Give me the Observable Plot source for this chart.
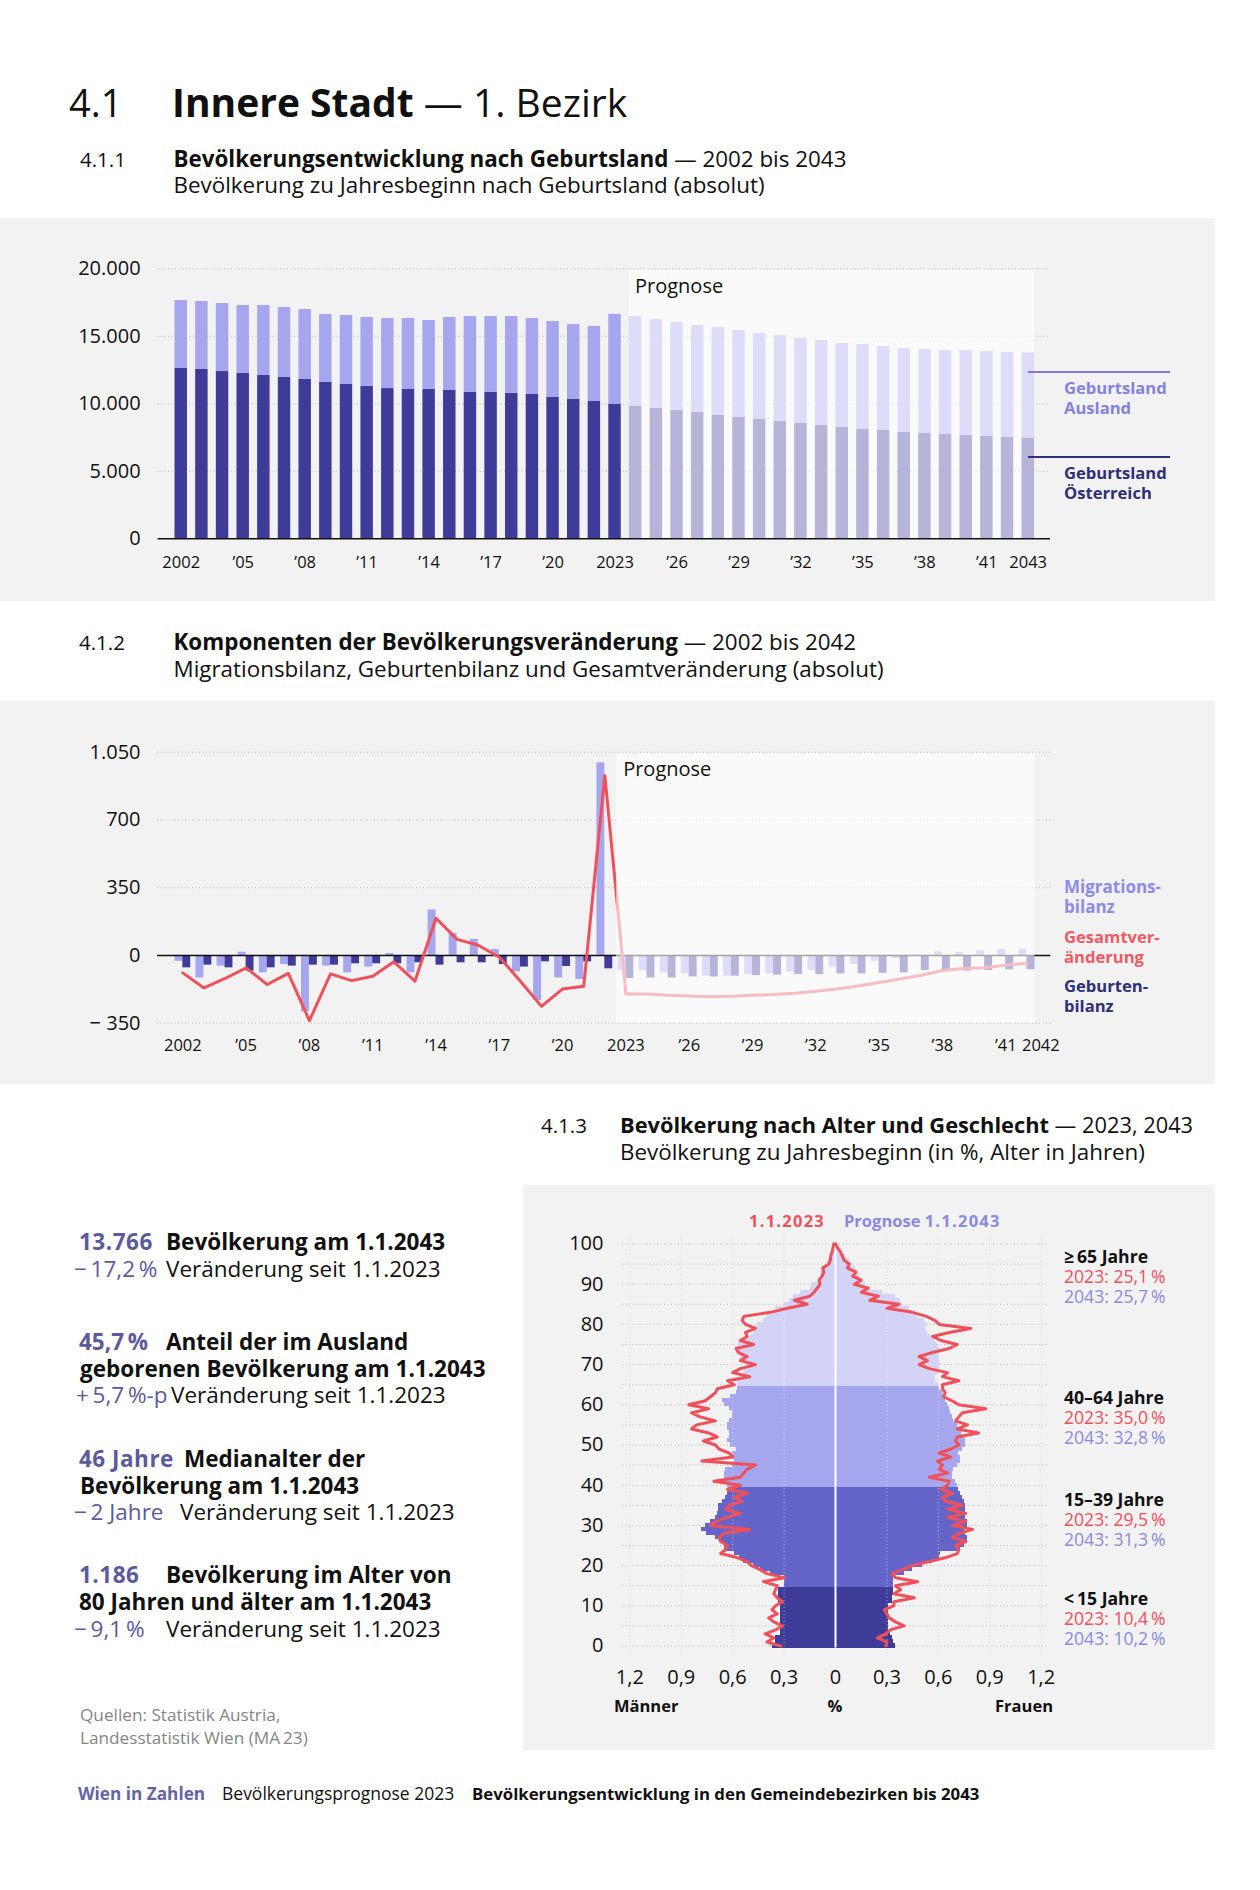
<!DOCTYPE html>
<html><head><meta charset="utf-8">
<script src="https://cdn.jsdelivr.net/npm/d3@7"></script>
<script src="https://cdn.jsdelivr.net/npm/@observablehq/plot@0.6"></script>
<style>
body{margin:0;background:#fff;}
#page{position:relative;width:1260px;height:1890px;font-family:"Open Sans",Lato,sans-serif;color:#111;overflow:hidden;}
.panel{position:absolute;background:#f2f2f2;}
.chart{position:absolute;}
.chart svg{overflow:visible;max-width:none;}
</style></head><body><div id="page"></div>
<script>
// ---------- DATA ----------
// 4.1.1 Bevölkerung nach Geburtsland
const popYears = [2002,2003,2004,2005,2006,2007,2008,2009,2010,2011,2012,2013,2014,2015,2016,2017,2018,2019,2020,2021,2022,2023,
  2024,2025,2026,2027,2028,2029,2030,2031,2032,2033,2034,2035,2036,2037,2038,2039,2040,2041,2042,2043];
const popOesterreich = [12615,12540,12390,12245,12095,11950,11800,11580,11430,11280,11130,11060,11060,10985,10840,10840,10765,10690,10470,10320,10170,9976,
  9800,9650,9505,9355,9135,8985,8835,8690,8540,8395,8245,8095,8020,7875,7800,7725,7650,7580,7505,7475];
const popAusland = [5035,5040,5040,5035,5185,5185,5185,5035,5110,5115,5190,5260,5110,5410,5625,5625,5700,5630,5625,5555,5555,6650,
  6665,6595,6515,6445,6515,6445,6370,6370,6295,6295,6220,6300,6225,6220,6220,6225,6300,6295,6295,6291];
const popTicks = [2002,2005,2008,2011,2014,2017,2020,2023,2026,2029,2032,2035,2038,2041,2043];
const popYTicks = [0,5000,10000,15000,20000];
const forecastStart1 = 2024, forecastEnd1 = 2043;

// 4.1.2 Komponenten der Bevölkerungsveränderung
const compYears = [2002,2003,2004,2005,2006,2007,2008,2009,2010,2011,2012,2013,2014,2015,2016,2017,2018,2019,2020,2021,2022,
  2023,2024,2025,2026,2027,2028,2029,2030,2031,2032,2033,2034,2035,2036,2037,2038,2039,2040,2041,2042];
const migrationsbilanz = [-30,-116,-55,17,-90,-47,-292,-55,-90,-60,10,-90,235,114,83,31,-85,-233,-116,-124,995,
  -78,-78,-90,-95,-107,-107,-99,-95,-85,-78,-61,-47,-30,-16,-3,19,16,26,31,31];
const geburtenbilanz = [-64,-50,-64,-81,-64,-55,-50,-50,-43,-43,-43,-38,-50,-38,-38,-47,-60,-33,-57,-33,-69,
  -119,-116,-116,-111,-111,-107,-104,-102,-99,-99,-95,-95,-93,-90,-78,-81,-81,-78,-74,-74];
const gesamtveraenderung = [-90,-168,-119,-64,-150,-93,-337,-95,-130,-107,-33,-133,192,83,53,-9,-133,-263,-173,-159,929,
  -199,-199,-206,-209,-213,-211,-206,-202,-195,-185,-173,-158,-140,-121,-102,-78,-67,-64,-50,-40];
const compTicks = [2002,2005,2008,2011,2014,2017,2020,2023,2026,2029,2032,2035,2038,2041];
const compLastTick = [2042];
const compYTicks = [-350,0,350,700,1050];
const forecastStart2 = 2023, forecastEnd2 = 2042;

// 4.1.3 Bevölkerung nach Alter und Geschlecht (in %)
const ages = [0,1,2,3,4,5,6,7,8,9,10,11,12,13,14,15,16,17,18,19,20,21,22,23,24,25,26,27,28,29,30,31,32,33,34,35,36,37,38,39,40,
  41,42,43,44,45,46,47,48,49,50,51,52,53,54,55,56,57,58,59,60,61,62,63,64,65,66,67,68,69,70,71,72,73,74,75,76,77,78,79,80,
  81,82,83,84,85,86,87,88,89,90,91,92,93,94,95,96,97,98,99,100];
const maenner2043 = [0.366,0.35,0.35,0.32,0.32,0.32,0.32,0.32,0.32,0.32,0.32,0.33,0.33,0.33,0.33,0.30,0.30,0.30,0.38,0.44,
  0.48,0.535,0.56,0.59,0.65,0.65,0.67,0.70,0.75,0.78,0.76,0.73,0.70,0.69,0.68,0.68,0.66,0.64,0.63,0.62,
  0.63,0.65,0.65,0.65,0.64,0.60,0.59,0.60,0.60,0.58,0.61,0.63,0.62,0.62,0.63,0.63,0.62,0.60,0.60,0.62,
  0.65,0.66,0.61,0.58,0.57,0.57,0.57,0.545,0.535,0.525,0.515,0.535,0.555,0.575,0.585,0.565,0.515,0.495,0.48,0.47,
  0.457,0.42,0.405,0.36,0.35,0.30,0.27,0.245,0.205,0.146,0.136,0.107,0.088,0.085,0.068,0.049,0.039,0.03,0.02,0.014,0.01];
const frauen2043 = [0.35,0.34,0.33,0.32,0.31,0.31,0.31,0.31,0.31,0.31,0.31,0.33,0.33,0.34,0.34,0.34,0.34,0.34,0.40,0.45,
  0.51,0.566,0.605,0.615,0.73,0.75,0.77,0.77,0.76,0.75,0.77,0.77,0.76,0.757,0.76,0.76,0.75,0.74,0.73,0.72,
  0.71,0.70,0.683,0.68,0.69,0.71,0.73,0.73,0.72,0.74,0.757,0.76,0.75,0.737,0.72,0.71,0.69,0.683,0.673,0.663,
  0.654,0.644,0.634,0.624,0.605,0.60,0.586,0.586,0.60,0.605,0.615,0.605,0.605,0.595,0.605,0.595,0.576,0.556,0.537,0.527,
  0.537,0.517,0.479,0.45,0.43,0.39,0.38,0.35,0.274,0.206,0.177,0.158,0.138,0.128,0.119,0.10,0.08,0.06,0.04,0.025,0.012];
const maenner2023 = [0.32,0.40,0.36,0.41,0.35,0.31,0.36,0.39,0.34,0.37,0.35,0.31,0.34,0.36,0.35,0.34,0.42,0.30,0.40,0.44,
  0.49,0.515,0.575,0.67,0.64,0.63,0.67,0.68,0.65,0.50,0.73,0.70,0.63,0.555,0.64,0.62,0.545,0.59,0.515,0.63,
  0.555,0.71,0.555,0.535,0.515,0.467,0.78,0.60,0.62,0.68,0.70,0.77,0.69,0.74,0.84,0.81,0.70,0.79,0.84,0.74,
  0.856,0.76,0.73,0.70,0.69,0.59,0.63,0.50,0.60,0.555,0.467,0.555,0.515,0.565,0.58,0.477,0.555,0.515,0.525,0.467,
  0.525,0.545,0.535,0.38,0.28,0.165,0.24,0.15,0.125,0.107,0.09,0.095,0.078,0.068,0.075,0.039,0.03,0.028,0.02,0.015,0.01];
const frauen2023 = [0.294,0.30,0.245,0.294,0.32,0.40,0.35,0.313,0.30,0.284,0.34,0.34,0.46,0.34,0.38,0.35,0.48,0.35,0.33,0.39,
  0.45,0.547,0.644,0.71,0.72,0.70,0.76,0.683,0.72,0.80,0.683,0.76,0.654,0.76,0.654,0.74,0.644,0.624,0.683,0.615,
  0.654,0.663,0.547,0.654,0.605,0.624,0.595,0.673,0.605,0.673,0.72,0.70,0.71,0.835,0.71,0.77,0.70,0.72,0.74,0.877,
  0.72,0.68,0.63,0.64,0.624,0.624,0.72,0.624,0.654,0.547,0.488,0.537,0.488,0.566,0.663,0.71,0.615,0.566,0.663,0.79,
  0.605,0.58,0.53,0.45,0.30,0.37,0.20,0.25,0.15,0.19,0.11,0.15,0.10,0.12,0.07,0.08,0.05,0.04,0.03,0.012,0.002];
const ageGroups = [{min:0,max:14,color:"#3f3c99"},{min:15,max:39,color:"#6565c9"},{min:40,max:64,color:"#a6a6ee"},{min:65,max:100,color:"#d3d3f7"}];
const ageTicks = [0,10,20,30,40,50,60,70,80,90,100];
const ageGrid = [0,5,10,15,20,25,30,35,40,45,50,55,60,65,70,75,80,85,90,95,100];
const pctTicks = [-1.2,-0.9,-0.6,-0.3,0,0.3,0.6,0.9,1.2];
const pctGrid = [-1.2,-0.9,-0.6,-0.3,0.3,0.6,0.9,1.2];

// ---------- HELPERS ----------
const FONT = "'Open Sans', Lato, sans-serif";
const C = {dark:"#3f3c99", light:"#a6a6ee", red:"#f0505a", lila:"#8383dc", navy:"#2f2f78", num:"#5a5a9c", grid:"#b4b4b4"};
const de = d3.formatLocale({decimal:",", thousands:".", grouping:[3], currency:["","€"]});
const fmtInt = v => v < 0 ? "− " + de.format(",")(-v) : de.format(",")(v);
const yearLabel = y => (y === 2002 || y === 2023 || y === 2043 || y === 2042) ? String(y) : "’" + String(y).slice(2);
const baseStyle = {fontFamily:FONT, color:"#111", background:"transparent", overflow:"visible"};

const page = d3.select("#page");
function panel(x,y,w,h){ page.append("div").attr("class","panel").style("left",x+"px").style("top",y+"px").style("width",w+"px").style("height",h+"px"); }
function place(node,x,y){ const d = page.append("div").attr("class","chart").style("left",x+"px").style("top",y+"px"); d.node().appendChild(node); }

panel(0,218,1215,383);
panel(0,701,1215,383);
panel(523,1185,692,565);

// ---------- CHART 1 ----------
const pop = popYears.map((year,i) => ({year, oe: popOesterreich[i], aus: popAusland[i]}));
const fc1 = [{x1: forecastStart1 - 0.3, x2: forecastEnd1 + 0.3}];
const chart1 = Plot.plot({
  width:1215, height:383, marginLeft:157.6, marginRight:1215-1050, marginTop:50.3, marginBottom:62.7,
  style: baseStyle,
  x:{domain:[2000.88, 2044.08], axis:null},
  y:{domain:[0,20000], axis:null},
  marks:[
    Plot.gridY(popYTicks.filter(d=>d>0), {stroke:C.grid, strokeOpacity:1, strokeDasharray:"1,2.5"}),
    Plot.rect(pop, {x1:d=>d.year-0.5, x2:d=>d.year+0.5, y1:0, y2:"oe", fill:C.dark, insetLeft:4.1, insetRight:4.1}),
    Plot.rect(pop, {x1:d=>d.year-0.5, x2:d=>d.year+0.5, y1:"oe", y2:d=>d.oe+d.aus, fill:C.light, insetLeft:4.1, insetRight:4.1}),
    Plot.rect(fc1, {x1:"x1", x2:"x2", y1:0, y2:19870, fill:"white", fillOpacity:0.62}),
    Plot.ruleY([0], {stroke:"#111", strokeWidth:1.5}),
    Plot.axisY({ticks:popYTicks, tickFormat:fmtInt, tickSize:0, tickPadding:17.5, fontSize:20, label:null}),
    Plot.axisX({ticks:popTicks, tickFormat:yearLabel, tickSize:0, tickPadding:17.5, fontSize:16.5, label:null}),
    Plot.text(fc1, {x:"x1", y:()=>19870, text:()=>"Prognose", dx:5.5, dy:22.7, textAnchor:"start", lineAnchor:"bottom", fontSize:20, fill:"#111"})
  ]
});
place(chart1, 0, 218);

// ---------- CHART 2 ----------
const comp = compYears.map((year,i) => ({year, mig: migrationsbilanz[i], geb: geburtenbilanz[i], ges: gesamtveraenderung[i]}));
const fc2 = [{x1: forecastStart2 - 0.44, x2: forecastEnd2 + 0.38}];
const chart2 = Plot.plot({
  width:1215, height:383, marginLeft:157, marginRight:1215-1050.4, marginTop:50.7, marginBottom:61.3,
  style: baseStyle,
  x:{domain:[2000.80, 2043.14], axis:null},
  y:{domain:[-350,1050], axis:null},
  marks:[
    Plot.gridY(compYTicks.filter(d=>d!==0), {stroke:C.grid, strokeOpacity:1, strokeDasharray:"1,2.5"}),
    Plot.rect(comp, {x1:d=>d.year-0.375, x2:d=>d.year, y1:0, y2:"mig", fill:C.light}),
    Plot.rect(comp, {x1:d=>d.year, x2:d=>d.year+0.375, y1:0, y2:"geb", fill:C.dark}),
    Plot.ruleY([0], {stroke:"#111", strokeWidth:1.5}),
    Plot.line(comp, {x:"year", y:"ges", stroke:C.red, strokeWidth:3, strokeLinejoin:"round"}),
    Plot.rect(fc2, {x1:"x1", x2:"x2", y1:-350, y2:1042, fill:"white", fillOpacity:0.62}),
    Plot.axisY({ticks:compYTicks, tickFormat:fmtInt, tickSize:0, tickPadding:17, fontSize:20, label:null}),
    Plot.axisX({ticks:compTicks, tickFormat:yearLabel, tickSize:0, tickPadding:16.5, fontSize:16.5, label:null}),
    Plot.axisX({ticks:compLastTick, tickFormat:yearLabel, tickSize:0, tickPadding:16.5, fontSize:16.5, dx:14, label:null}),
    Plot.text(fc2, {x:"x1", y:()=>1042, text:()=>"Prognose", dx:6.5, dy:22.7, textAnchor:"start", lineAnchor:"bottom", fontSize:20, fill:"#111"})
  ]
});
place(chart2, 0, 701);

// ---------- CHART 3 (Pyramide) ----------
const groupColor = a => ageGroups.find(g => a >= g.min && a <= g.max).color;
const m43 = ages.map((age,i)=>({age, v: maenner2043[i]}));
const f43 = ages.map((age,i)=>({age, v: frauen2043[i]}));
const m23 = ages.map((age,i)=>({age, v: maenner2023[i]}));
const f23 = ages.map((age,i)=>({age, v: frauen2023[i]}));
const pctLabel = d => d === 0 ? "0" : de.format(",.1f")(Math.abs(d));
const chart3 = Plot.plot({
  width:692, height:565, marginLeft:99, marginRight:692-526, marginTop:58.5, marginBottom:104.5,
  style: baseStyle,
  x:{domain:[-1.2427, 1.2485], axis:null},
  y:{domain:[0,100], axis:null},
  color:{type:"identity"},
  marks:[
    Plot.gridY(ageGrid, {stroke:C.grid, strokeOpacity:1, strokeDasharray:"1,2.5"}),
    Plot.ruleX(pctGrid, {y1:-2, y2:102, stroke:"#cfcfcf", strokeDasharray:"1,2.5"}),
    Plot.rect(m43, {x1:d=>-d.v, x2:0, y1:d=>d.age-0.5, y2:d=>d.age+0.5, fill:d=>groupColor(d.age), shapeRendering:"crispEdges"}),
    Plot.rect(f43, {x1:0, x2:d=>d.v, y1:d=>d.age-0.5, y2:d=>d.age+0.5, fill:d=>groupColor(d.age), shapeRendering:"crispEdges"}),
    Plot.ruleX(pctGrid, {y1:-2, y2:102, stroke:"white", strokeOpacity:0.55, strokeDasharray:"1,2.5"}),
    Plot.ruleX([0], {y1:-0.5, y2:100.5, stroke:"white", strokeWidth:2}),
    Plot.line(m23, {x:d=>-d.v, y:"age", stroke:C.red, strokeWidth:3, strokeLinejoin:"round"}),
    Plot.line(f23, {x:"v", y:"age", stroke:C.red, strokeWidth:3, strokeLinejoin:"round"}),
    Plot.axisY({ticks:ageTicks, tickSize:0, tickPadding:19, fontSize:20, label:null}),
    Plot.axisX({ticks:pctTicks, tickFormat:pctLabel, tickSize:0, tickPadding:24, fontSize:20, label:null})
  ]
});
place(chart3, 523, 1185);

// ---------- TEXT LAYER ----------
const T = page.append("svg").attr("width",1260).attr("height",1890)
  .style("position","absolute").style("left","0").style("top","0").style("pointer-events","none")
  .style("font-family",FONT).style("white-space","pre");
function txt(x, y, spans, o = {}) {
  const t = T.append("text").attr("x",x).attr("y",y).attr("font-size",o.size||22).attr("fill",o.color||"#111")
    .attr("text-anchor",o.anchor||"start").attr("font-weight",o.bold?700:400);
  if (o.ls) t.attr("letter-spacing", o.ls);
  (Array.isArray(spans)?spans:[spans]).forEach(s => {
    if (typeof s === "string") t.append("tspan").text(s);
    else {
      const ts = t.append("tspan").text(s.t);
      if (s.b!==undefined) ts.attr("font-weight", s.b?700:400);
      if (s.c) ts.attr("fill", s.c);
      if (s.ls!==undefined) ts.attr("letter-spacing", s.ls);
    }
  });
}
const th = "\u2009";
const H = 22.4;
// titles
txt(69,117,"4.1",{size:38});
txt(172,117,[{t:"Innere Stadt",b:true},{t:" — 1. Bezirk",b:false}],{size:39});
txt(80,167,"4.1.1",{size:20.5});
txt(173.5,167,[{t:"Bevölkerungsentwicklung nach Geburtsland",b:true},{t:" — 2002 bis 2043",b:false}],{size:H});
txt(173.5,193,"Bevölkerung zu Jahresbeginn nach Geburtsland (absolut)",{size:H});
txt(79,650,"4.1.2",{size:20.5});
txt(173.5,650,[{t:"Komponenten der Bevölkerungsveränderung",b:true},{t:" — 2002 bis 2042",b:false}],{size:H});
txt(173.5,677,"Migrationsbilanz, Geburtenbilanz und Gesamtveränderung (absolut)",{size:H});
txt(541,1133,"4.1.3",{size:20.5});
txt(620,1133,[{t:"Bevölkerung nach Alter und Geschlecht",b:true},{t:" — 2023, 2043",b:false}],{size:21.8});
txt(620,1160,"Bevölkerung zu Jahresbeginn (in %, Alter in Jahren)",{size:H});

// chart 1 legend
T.append("line").attr("x1",1028).attr("x2",1170).attr("y1",372).attr("y2",372).attr("stroke","#7b7bd2").attr("stroke-width",2);
T.append("line").attr("x1",1028).attr("x2",1170).attr("y1",457).attr("y2",457).attr("stroke",C.navy).attr("stroke-width",2);
const L = 16.6;
txt(1064,394,"Geburtsland",{size:L,bold:true,color:C.lila});
txt(1064,414,"Ausland",{size:L,bold:true,color:C.lila});
txt(1064,479,"Geburtsland",{size:L,bold:true,color:C.navy});
txt(1064,499,"Österreich",{size:L,bold:true,color:C.navy});
// chart 2 legend
txt(1064,893,"Migrations-",{size:17,bold:true,color:"#8c8ce6"});
txt(1064,913,"bilanz",{size:17,bold:true,color:"#8c8ce6"});
txt(1064,943,"Gesamtver-",{size:L,bold:true,color:"#f05a64"});
txt(1064,963,"änderung",{size:L,bold:true,color:"#f05a64"});
txt(1064,992,"Geburten-",{size:L,bold:true,color:C.navy});
txt(1064,1012,"bilanz",{size:L,bold:true,color:C.navy});
// pyramid legend
txt(749,1227,[{t:"1.1.2023",ls:1.25}],{size:16.5,bold:true,color:C.red});
txt(844,1227,[{t:"Prognose "},{t:"1.1.2043",ls:1.25}],{size:16.5,bold:true,color:"#8a8ae0"});
const groupsTxt = [["≥"+th+"65 Jahre","2023: 25,1"+th+"%","2043: 25,7"+th+"%",1263],["40–64 Jahre","2023: 35,0"+th+"%","2043: 32,8"+th+"%",1404],
  ["15–39 Jahre","2023: 29,5"+th+"%","2043: 31,3"+th+"%",1505.5],["<"+th+"15 Jahre","2023: 10,4"+th+"%","2043: 10,2"+th+"%",1605]];
groupsTxt.forEach(([a,b,c,y]) => {
  txt(1064,y,a,{size:17.6,bold:true});
  txt(1064,y+20,b,{size:17.6,color:C.red});
  txt(1064,y+40,c,{size:17.6,color:"#8a8ae0"});
});
txt(614,1712,"Männer",{size:16.5,bold:true});
txt(835,1712,"%",{size:16.5,bold:true,anchor:"middle"});
txt(1053,1712,"Frauen",{size:16.5,bold:true,anchor:"end"});

// stats
const S = 22.5;
const NL = 0.5;
txt(79,1250,[{t:"13.766",ls:NL}],{size:S,bold:true,color:C.num});
txt(166,1250,"Bevölkerung am 1.1.2043",{size:S,bold:true});
txt(74,1277,"−"+th+"17,2"+th+"%",{size:S,color:C.num});
txt(166,1277,"Veränderung seit 1.1.2023",{size:S});
txt(79,1350,[{t:"45,7"+th+"%",ls:0}],{size:S,bold:true,color:C.num});
txt(166,1350,"Anteil der im Ausland",{size:S,bold:true});
txt(80,1377,"geborenen Bevölkerung am 1.1.2043",{size:S,bold:true});
txt(76,1403,"+"+th+"5,7"+th+"%-p",{size:S,color:C.num});
txt(171,1403,"Veränderung seit 1.1.2023",{size:S});
txt(79,1467,[{t:"46 Jahre",ls:NL}],{size:S,bold:true,color:C.num});
txt(184,1467,"Medianalter der",{size:S,bold:true});
txt(80,1494,"Bevölkerung am 1.1.2043",{size:S,bold:true});
txt(74,1520,"−"+th+"2 Jahre",{size:S,color:C.num});
txt(180,1520,"Veränderung seit 1.1.2023",{size:S});
txt(79,1583,[{t:"1.186",ls:NL}],{size:S,bold:true,color:C.num});
txt(166,1583,"Bevölkerung im Alter von",{size:S,bold:true});
txt(79,1610,"80 Jahren und älter am 1.1.2043",{size:S,bold:true});
txt(74,1637,"−"+th+"9,1"+th+"%",{size:S,color:C.num});
txt(166,1637,"Veränderung seit 1.1.2023",{size:S});
txt(80,1721,"Quellen: Statistik Austria,",{size:17.2,color:"#858585"});
txt(80,1744,"Landesstatistik Wien (MA"+th+"23)",{size:17.2,color:"#858585"});
// footer
txt(78,1800,"Wien in Zahlen",{size:17.2,bold:true,color:"#6464a6"});
txt(222,1800,"Bevölkerungsprognose 2023",{size:17.5});
txt(472,1800,"Bevölkerungsentwicklung in den Gemeindebezirken bis 2043",{size:16.8,bold:true});
</script></body></html>
